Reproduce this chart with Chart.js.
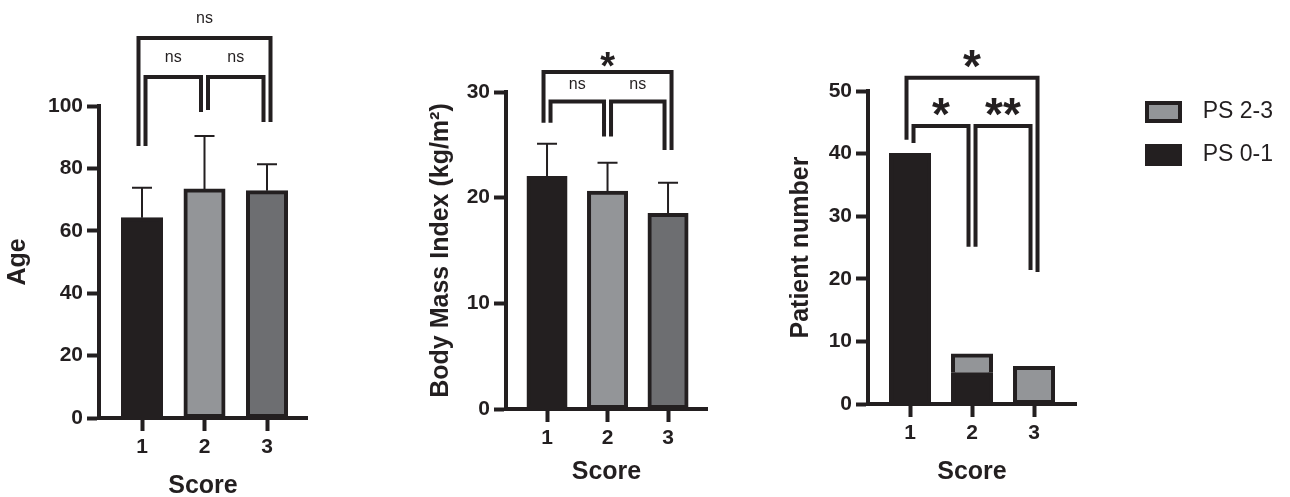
<!DOCTYPE html>
<html>
<head>
<meta charset="utf-8">
<script src="https://cdn.jsdelivr.net/npm/chart.js@4.4.1/dist/chart.umd.min.js"></script>
<style>
html,body{margin:0;padding:0;background:#fff;width:1290px;height:497px;overflow:hidden;position:relative}
canvas{position:absolute;top:0}
</style>
</head>
<body>
<canvas id="c1" width="320" height="497" style="left:0px"></canvas>
<canvas id="c2" width="300" height="497" style="left:420px"></canvas>
<canvas id="c3" width="510" height="497" style="left:780px"></canvas>
<script>
// ---------- DATA ----------
const scoreLabels = ['1', '2', '3'];

const ageMean = [64.2, 73.4, 72.8];
const ageSD   = [9.6, 17.0, 8.5];
const ageTicksStep = 20;

const bmiMean = [22.0, 20.6, 18.5];
const bmiSD   = [3.1, 2.7, 2.9];
const bmiTicksStep = 10;

const ps01Count = [40, 5, 0];
const ps23Count = [0, 3, 6];
const countTicksStep = 10;

const seriesNames = ['PS 0-1', 'PS 2-3'];

// significance brackets: categories compared, bracket top value, leg end values, label
const ageBrackets = [
  {from: 1, to: 2, top: 109.3, leftEnd: 87.2, rightEnd: 98.1, label: 'ns'},
  {from: 2, to: 3, top: 109.3, leftEnd: 98.7, rightEnd: 94.9, label: 'ns'},
  {from: 1, to: 3, top: 121.8, leftEnd: 87.2, rightEnd: 94.9, label: 'ns', outer: true}
];
const bmiBrackets = [
  {from: 1, to: 2, top: 29.1, leftEnd: 27.1, rightEnd: 25.8, label: 'ns'},
  {from: 2, to: 3, top: 29.1, leftEnd: 25.8, rightEnd: 24.5, label: 'ns'},
  {from: 1, to: 3, top: 31.9, leftEnd: 27.1, rightEnd: 24.5, label: '*', outer: true}
];
const countBrackets = [
  {from: 1, to: 2, top: 44.4, leftEnd: 41.7, rightEnd: 25.1, label: '*'},
  {from: 2, to: 3, top: 44.4, leftEnd: 25.1, rightEnd: 21.4, label: '**'},
  {from: 1, to: 3, top: 52.1, leftEnd: 42.2, rightEnd: 21.1, label: '*', outer: true}
];

// ---------- STYLE ----------
const INK = '#231f20';
const GRAY = '#939598';
const DARKGRAY = '#6d6e71';
const FONT = '"Liberation Sans", Arial, Helvetica, sans-serif';
Chart.defaults.font.family = FONT;
Chart.defaults.color = INK;

function pts(vals) { return vals.map((v, i) => ({x: i + 1, y: v})); }
const inflate = c => (c.raw && c.raw.y > 0 ? 0.5 : 0);

function errorBarPlugin(sd) {
  return {
    id: 'errbars',
    afterDatasetsDraw(chart) {
      const ctx = chart.ctx, ys = chart.scales.y;
      const meta = chart.getDatasetMeta(0);
      const data = chart.data.datasets[0].data;
      ctx.save();
      ctx.strokeStyle = INK; ctx.lineWidth = 2; ctx.lineCap = 'butt';
      meta.data.forEach((bar, i) => {
        const yTop = ys.getPixelForValue(data[i].y + sd[i]);
        ctx.beginPath();
        ctx.moveTo(bar.x, bar.y);
        ctx.lineTo(bar.x, yTop);
        ctx.moveTo(bar.x - 10, yTop);
        ctx.lineTo(bar.x + 10, yTop);
        ctx.stroke();
      });
      ctx.restore();
    }
  };
}

function bracketPlugin(list, st) {
  return {
    id: 'brackets',
    afterDraw(chart) {
      const {ctx} = chart, xs = chart.scales.x, ys = chart.scales.y;
      ctx.save();
      ctx.strokeStyle = INK; ctx.fillStyle = INK;
      ctx.lineWidth = 4; ctx.lineJoin = 'miter'; ctx.lineCap = 'butt';
      ctx.textAlign = 'center'; ctx.textBaseline = 'alphabetic';
      list.forEach(b => {
        const nudge = b.outer ? -3.5 : 3.5;
        const xl = xs.getPixelForValue(b.from) + nudge;
        const xr = xs.getPixelForValue(b.to) - nudge;
        const yt = ys.getPixelForValue(b.top);
        ctx.beginPath();
        ctx.moveTo(xl, ys.getPixelForValue(b.leftEnd));
        ctx.lineTo(xl, yt);
        ctx.lineTo(xr, yt);
        ctx.lineTo(xr, ys.getPixelForValue(b.rightEnd));
        ctx.stroke();
        const star = b.label.indexOf('*') >= 0;
        const size = star ? st.starSize : st.nsSize;
        ctx.font = (star ? 'bold ' : '') + size + 'px ' + FONT;
        const cy = yt - (star ? st.starGap : st.nsGap);
        ctx.fillText(b.label, (xl + xr) / 2, cy + (star ? 0.58 : 0.26) * size);
      });
      ctx.restore();
    }
  };
}

function xScale(min, max, h, titlePadBottom) {
  return {
    type: 'linear', min: min, max: max, z: 1, offset: false,
    afterBuildTicks: s => { s.ticks = scoreLabels.map((_, i) => ({value: i + 1})); },
    ticks: {
      callback: v => scoreLabels[Math.round(v) - 1],
      font: {size: 21, weight: 'bold'}, color: INK, padding: 4,
      autoSkip: false, maxRotation: 0
    },
    grid: {offset: false, drawOnChartArea: false, drawTicks: true, tickLength: 13, tickWidth: 4, tickColor: INK},
    border: {display: true, color: INK, width: 4},
    title: {display: true, text: 'Score', color: INK,
      font: {size: 25, weight: 'bold', lineHeight: 0.88},
      padding: {top: 0, bottom: titlePadBottom}},
    afterFit: s => { s.height = h; }
  };
}

function yScale(max, step, w, title, titlePadTop) {
  return {
    min: 0, max: max,
    ticks: {stepSize: step, font: {size: 21, weight: 'bold'}, color: INK, padding: 4},
    grid: {drawOnChartArea: false, drawTicks: true, tickLength: 12, tickWidth: 4, tickColor: INK},
    border: {display: true, color: INK, width: 4},
    title: {display: true, text: title, color: INK,
      font: {size: 25, weight: 'bold', lineHeight: 1.2},
      padding: {top: titlePadTop, bottom: 0}},
    afterFit: s => { s.width = w; }
  };
}

const commonOpts = {
  responsive: false, animation: false, events: [],
  plugins: {legend: {display: false}, tooltip: {enabled: false}}
};

// ---------- PANEL 1 : Age ----------
new Chart(document.getElementById('c1'), {
  type: 'bar',
  data: {
    datasets: [{
      label: 'Age',
      data: pts(ageMean),
      backgroundColor: [INK, GRAY, DARKGRAY],
      borderColor: INK, borderWidth: 4, borderSkipped: false,
      barThickness: 41, inflateAmount: inflate
    }]
  },
  options: Object.assign({}, commonOpts, {
    layout: {padding: {left: 0, top: 106, right: 13, bottom: 0}},
    scales: {
      x: xScale(0.312, 3.64, 79, 0),
      y: yScale(100, ageTicksStep, 99, 'Age', 3)
    }
  }),
  plugins: [errorBarPlugin(ageSD), bracketPlugin(ageBrackets, {nsSize: 16, starSize: 38, nsGap: 19.5, starGap: 15})]
});

// ---------- PANEL 2 : BMI ----------
new Chart(document.getElementById('c2'), {
  type: 'bar',
  data: {
    datasets: [{
      label: 'Body Mass Index',
      data: pts(bmiMean),
      backgroundColor: [INK, GRAY, DARKGRAY],
      borderColor: INK, borderWidth: 4, borderSkipped: false,
      barThickness: 40, inflateAmount: inflate
    }]
  },
  options: Object.assign({}, commonOpts, {
    layout: {padding: {left: 0, top: 92, right: 13, bottom: 0}},
    scales: {
      x: xScale(0.322, 3.644, 88, 14),
      y: yScale(30, bmiTicksStep, 86, 'Body Mass Index (kg/m\u00B2)', 6)
    }
  }),
  plugins: [errorBarPlugin(bmiSD), bracketPlugin(bmiBrackets, {nsSize: 16, starSize: 38, nsGap: 17, starGap: 15})]
});

// ---------- PANEL 3 : Patient number ----------
const LEGEND_W = 214;
const legendPlacer = {
  id: 'legendPlacer',
  beforeLayout(chart) {
    const lg = chart.legend;
    if (lg && !lg._wPatched) {
      const fit = lg.fit.bind(lg);
      lg.fit = function () { fit(); this.width = LEGEND_W; };
      lg._wPatched = true;
    }
  },
  afterLayout(chart) {
    const lg = chart.legend;
    const h = lg.height;
    lg.left = 347; lg.right = 493;
    lg.top = 80.5; lg.bottom = lg.top + h;
  }
};

new Chart(document.getElementById('c3'), {
  type: 'bar',
  data: {
    datasets: [
      {
        label: seriesNames[0], data: pts(ps01Count),
        backgroundColor: INK, borderColor: INK, borderWidth: 4,
        borderSkipped: false, barThickness: 41, inflateAmount: inflate
      },
      {
        label: seriesNames[1], data: pts(ps23Count),
        backgroundColor: GRAY, borderColor: INK, borderWidth: 4,
        borderSkipped: c => (ps01Count[c.dataIndex] > 0 ? 'start' : false),
        barThickness: 41, inflateAmount: inflate
      }
    ]
  },
  options: Object.assign({}, commonOpts, {
    layout: {padding: {left: 0, top: 91, right: 0, bottom: 0}},
    plugins: {
      tooltip: {enabled: false},
      legend: {
        display: true, position: 'right', align: 'start', reverse: true,
        labels: {boxWidth: 33, boxHeight: 18, padding: 20, color: INK, textAlign: 'right',
          font: {size: 23, weight: 'normal'}}
      }
    },
    scales: {
      x: Object.assign(xScale(0.3226, 3.677, 93, 14), {stacked: true}),
      y: Object.assign(yScale(50, countTicksStep, 88, 'Patient number', 6), {stacked: true})
    }
  }),
  plugins: [legendPlacer, bracketPlugin(countBrackets, {nsSize: 16, starSize: 46, nsGap: 19, starGap: 23})]
});
</script>
</body>
</html>
